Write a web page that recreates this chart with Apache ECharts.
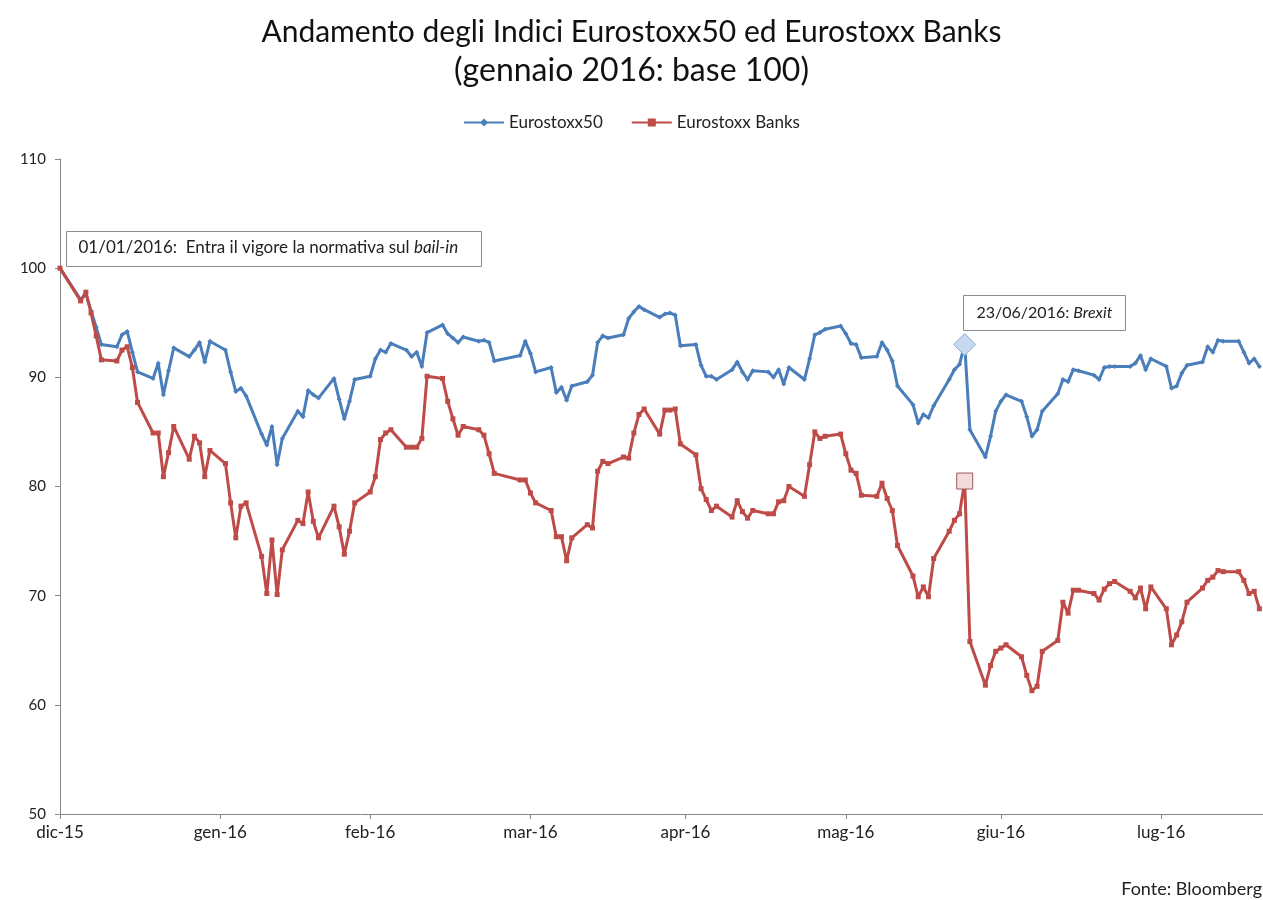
<!DOCTYPE html>
<html>
<head>
<meta charset="utf-8">
<script src="https://cdn.jsdelivr.net/npm/echarts@6/dist/echarts.min.js"></script>
<style>
  html, body { margin: 0; padding: 0; background: #fff; }
  #chart { width: 1263px; height: 900px; }
</style>
</head>
<body>
<div id="chart"></div>
<script>
// giorni di negoziazione (31/12/2015 = base 100)
const date = [
  '2015-12-31', '2016-01-04', '2016-01-05', '2016-01-06', '2016-01-07', '2016-01-08', '2016-01-11', '2016-01-12', '2016-01-13', '2016-01-14', '2016-01-15',
  '2016-01-18', '2016-01-19', '2016-01-20', '2016-01-21', '2016-01-22', '2016-01-25', '2016-01-26', '2016-01-27', '2016-01-28', '2016-01-29',
  '2016-02-01', '2016-02-02', '2016-02-03', '2016-02-04', '2016-02-05', '2016-02-08', '2016-02-09', '2016-02-10', '2016-02-11', '2016-02-12', '2016-02-15',
  '2016-02-16', '2016-02-17', '2016-02-18', '2016-02-19', '2016-02-22', '2016-02-23', '2016-02-24', '2016-02-25', '2016-02-26', '2016-02-29',
  '2016-03-01', '2016-03-02', '2016-03-03', '2016-03-04', '2016-03-07', '2016-03-08', '2016-03-09', '2016-03-10', '2016-03-11', '2016-03-14', '2016-03-15',
  '2016-03-16', '2016-03-17', '2016-03-18', '2016-03-21', '2016-03-22', '2016-03-23', '2016-03-24', '2016-03-29', '2016-03-30', '2016-03-31',
  '2016-04-01', '2016-04-04', '2016-04-05', '2016-04-06', '2016-04-07', '2016-04-08', '2016-04-11', '2016-04-12', '2016-04-13', '2016-04-14', '2016-04-15',
  '2016-04-18', '2016-04-19', '2016-04-20', '2016-04-21', '2016-04-22', '2016-04-25', '2016-04-26', '2016-04-27', '2016-04-28', '2016-04-29',
  '2016-05-02', '2016-05-03', '2016-05-04', '2016-05-05', '2016-05-06', '2016-05-09', '2016-05-10', '2016-05-11', '2016-05-12', '2016-05-13', '2016-05-16',
  '2016-05-17', '2016-05-18', '2016-05-19', '2016-05-20', '2016-05-23', '2016-05-24', '2016-05-25', '2016-05-26', '2016-05-27', '2016-05-30', '2016-05-31',
  '2016-06-01', '2016-06-02', '2016-06-03', '2016-06-06', '2016-06-07', '2016-06-08', '2016-06-09', '2016-06-10', '2016-06-13', '2016-06-14', '2016-06-15',
  '2016-06-16', '2016-06-17', '2016-06-20', '2016-06-21', '2016-06-22', '2016-06-23', '2016-06-24', '2016-06-27', '2016-06-28', '2016-06-29', '2016-06-30',
  '2016-07-01', '2016-07-04', '2016-07-05', '2016-07-06', '2016-07-07', '2016-07-08', '2016-07-11', '2016-07-12', '2016-07-13', '2016-07-14', '2016-07-15',
  '2016-07-18', '2016-07-19', '2016-07-20', '2016-07-21', '2016-07-22', '2016-07-25', '2016-07-26', '2016-07-27', '2016-07-28', '2016-07-29',
  '2016-08-01', '2016-08-02', '2016-08-03', '2016-08-04', '2016-08-05', '2016-08-08', '2016-08-09', '2016-08-10', '2016-08-11', '2016-08-12',
  '2016-08-15', '2016-08-16', '2016-08-17', '2016-08-18', '2016-08-19'
]

const eurostoxx50 = [
  100, 97.1, 97.7, 96.1, 94.6, 93.0, 92.8, 93.9, 94.2, 92.3, 90.5,
  89.9, 91.3, 88.4, 90.6, 92.7, 91.9, 92.5, 93.2, 91.4, 93.3,
  92.5, 90.5, 88.7, 89.0, 88.3, 84.8, 83.8, 85.5, 82.0, 84.4, 86.9,
  86.4, 88.8, 88.4, 88.1, 89.9, 88.0, 86.2, 87.8, 89.8, 90.1,
  91.7, 92.5, 92.3, 93.1, 92.5, 91.9, 92.3, 91.0, 94.1, 94.8, 94.0,
  93.6, 93.2, 93.7, 93.3, 93.4, 93.2, 91.5, 92.0, 93.3, 92.2,
  90.5, 90.9, 88.6, 89.1, 87.9, 89.2, 89.6, 90.2, 93.2, 93.8, 93.6,
  93.9, 95.4, 96.0, 96.5, 96.2, 95.5, 95.8, 95.9, 95.7, 92.9,
  93.0, 91.1, 90.1, 90.1, 89.8, 90.7, 91.4, 90.5, 89.8, 90.6, 90.5,
  90.0, 90.7, 89.4, 90.9, 89.8, 91.7, 93.9, 94.1, 94.4, 94.7, 94.0,
  93.1, 93.0, 91.8, 91.9, 93.2, 92.5, 91.5, 89.2, 87.5, 85.8, 86.6,
  86.3, 87.4, 89.8, 90.7, 91.2, 93.0, 85.2, 82.7, 84.6, 86.9, 87.8,
  88.4, 87.8, 86.4, 84.6, 85.2, 86.9, 88.5, 89.8, 89.6, 90.7, 90.6,
  90.2, 89.8, 90.9, 91.0, 91.0, 91.0, 91.3, 92.0, 90.7, 91.7,
  91.0, 89.0, 89.2, 90.4, 91.1, 91.4, 92.8, 92.3, 93.4, 93.3,
  93.3, 92.3, 91.3, 91.7, 91.0
]

const eurostoxxBanks = [
  100, 97.0, 97.8, 95.9, 93.8, 91.6, 91.5, 92.5, 92.8, 90.9, 87.7,
  84.9, 84.9, 80.9, 83.1, 85.5, 82.5, 84.6, 84.0, 80.9, 83.3,
  82.1, 78.5, 75.3, 78.2, 78.5, 73.6, 70.2, 75.1, 70.1, 74.2, 76.9,
  76.6, 79.5, 76.8, 75.3, 78.2, 76.3, 73.8, 75.9, 78.5, 79.5,
  80.9, 84.3, 84.9, 85.2, 83.6, 83.6, 83.6, 84.4, 90.1, 89.9, 87.8,
  86.2, 84.7, 85.5, 85.2, 84.7, 83.0, 81.2, 80.6, 80.6, 79.4,
  78.5, 77.8, 75.4, 75.4, 73.2, 75.3, 76.5, 76.2, 81.4, 82.3, 82.1,
  82.7, 82.6, 84.9, 86.6, 87.1, 84.8, 87.0, 87.0, 87.1, 83.9,
  82.9, 79.8, 78.8, 77.8, 78.2, 77.2, 78.7, 77.7, 77.1, 77.8, 77.5,
  77.5, 78.6, 78.7, 80.0, 79.1, 82.0, 85.0, 84.4, 84.6, 84.8, 83.0,
  81.5, 81.2, 79.2, 79.1, 80.3, 78.9, 77.8, 74.6, 71.8, 69.9, 70.8,
  69.9, 73.4, 75.9, 76.9, 77.5, 80.5, 65.8, 61.8, 63.6, 64.9, 65.2,
  65.5, 64.4, 62.7, 61.3, 61.7, 64.9, 65.9, 69.4, 68.4, 70.5, 70.5,
  70.2, 69.6, 70.6, 71.1, 71.3, 70.4, 69.8, 70.7, 68.8, 70.8,
  68.8, 65.5, 66.4, 67.6, 69.4, 70.7, 71.4, 71.7, 72.3, 72.2,
  72.2, 71.4, 70.2, 70.4, 68.8
]

// etichette dell'asse x e date a cui cadono
const mesi = ['dic-15', 'gen-16', 'feb-16', 'mar-16', 'apr-16', 'mag-16', 'giu-16', 'lug-16']
const dateMesi = ['2015-12-31', '2016-01-31', '2016-02-29', '2016-03-31', '2016-04-30', '2016-05-31', '2016-06-30', '2016-07-31']

const brexit = '2016-06-23'

const giorno0 = Date.UTC(2015, 11, 31)
function giorni(s) {
  const p = s.split('-')
  return Math.round((Date.UTC(+p[0], +p[1] - 1, +p[2]) - giorno0) / 86400000)
}
const tickX = dateMesi.map(giorni)

const font = 'Lato, "Open Sans", sans-serif'
const blu = '#4a7ebb'
const rosso = '#be4b48'

function serie(valori, speciale) {
  return date.map((d, i) => {
    const punto = { value: [giorni(d), valori[i]] }
    if (d === brexit) Object.assign(punto, speciale)
    return punto
  })
}

const chart = echarts.init(document.getElementById('chart'))
chart.setOption({
  animation: false,
  textStyle: { fontFamily: font },
  title: {
    text: '{a|Andamento degli Indici Eurostoxx50 ed Eurostoxx Banks}\n{b|(gennaio 2016: base 100)}',
    left: 'center',
    top: 7,
    textStyle: {
      fontFamily: font,
      fontWeight: 'normal',
      rich: {
        a: { fontSize: 30, fontWeight: 'normal', color: '#111', fontFamily: font, lineHeight: 40, align: 'center' },
        b: { fontSize: 32, fontWeight: 'normal', color: '#111', fontFamily: font, lineHeight: 38, align: 'center' }
      }
    }
  },
  legend: {
    top: 109,
    left: 'center',
    itemWidth: 40,
    itemHeight: 10,
    itemGap: 28,
    textStyle: { fontSize: 17, color: '#222', fontFamily: font },
    data: ['Eurostoxx50', 'Eurostoxx Banks']
  },
  grid: { left: 60, right: 0, top: 159, bottom: 86 },
  xAxis: {
    type: 'value',
    min: 0,
    max: 232.7,
    splitLine: { show: false },
    axisLine: { lineStyle: { color: '#868686', width: 1 } },
    axisTick: { customValues: tickX, length: 5, lineStyle: { color: '#868686' } },
    axisLabel: {
      customValues: tickX,
      formatter: v => mesi[tickX.indexOf(v)] || '',
      fontSize: 17, color: '#222', margin: 10, fontFamily: font
    }
  },
  yAxis: {
    type: 'value',
    min: 50,
    max: 110,
    interval: 10,
    splitLine: { show: false },
    axisLine: { show: true, lineStyle: { color: '#868686', width: 1 } },
    axisTick: { show: true, length: 5, lineStyle: { color: '#868686' } },
    axisLabel: { fontSize: 15, color: '#222', margin: 14, fontFamily: font }
  },
  series: [
    {
      name: 'Eurostoxx50',
      type: 'line',
      symbol: 'diamond',
      symbolSize: 5,
      showSymbol: true,
      color: blu,
      lineStyle: { width: 3, color: blu },
      itemStyle: { color: blu },
      data: serie(eurostoxx50, {
        symbol: 'diamond', symbolSize: 22,
        itemStyle: { color: '#c6d9f1', borderColor: '#8ea9d1', borderWidth: 1 }
      }),
      z: 2
    },
    {
      name: 'Eurostoxx Banks',
      type: 'line',
      symbol: 'rect',
      symbolSize: 5,
      showSymbol: true,
      color: rosso,
      lineStyle: { width: 3, color: rosso },
      itemStyle: { color: rosso },
      data: serie(eurostoxxBanks, {
        symbol: 'rect', symbolSize: 16,
        itemStyle: { color: '#f2dcdb', borderColor: '#9c5b5a', borderWidth: 1 }
      }),
      z: 3
    }
  ],
  graphic: [
    {
      type: 'group', left: 66, top: 231, z: 10,
      children: [
        { type: 'rect', shape: { x: 0, y: 0, width: 415, height: 35 }, style: { fill: '#fff', stroke: '#8c8c8c', lineWidth: 1 } },
        {
          type: 'text', x: 12, y: 8,
          style: {
            text: '01/01/2016:  Entra il vigore la normativa sul {i|bail-in}',
            font: '17px ' + font, fill: '#222',
            rich: { i: { fontStyle: 'italic', fontSize: 17, fontFamily: font, fill: '#222' } }
          }
        }
      ]
    },
    {
      type: 'group', left: 963, top: 295, z: 10,
      children: [
        { type: 'rect', shape: { x: 0, y: 0, width: 162, height: 35 }, style: { fill: '#fff', stroke: '#8c8c8c', lineWidth: 1 } },
        {
          type: 'text', x: 13, y: 9,
          style: {
            text: '23/06/2016: {i|Brexit}',
            font: '16px ' + font, fill: '#222',
            rich: { i: { fontStyle: 'italic', fontSize: 16, fontFamily: font, fill: '#222' } }
          }
        }
      ]
    },
    {
      type: 'text', right: 1, top: 880,
      style: { text: 'Fonte: Bloomberg', font: '18px ' + font, fill: '#222' }
    }
  ]
})
</script>
</body>
</html>
